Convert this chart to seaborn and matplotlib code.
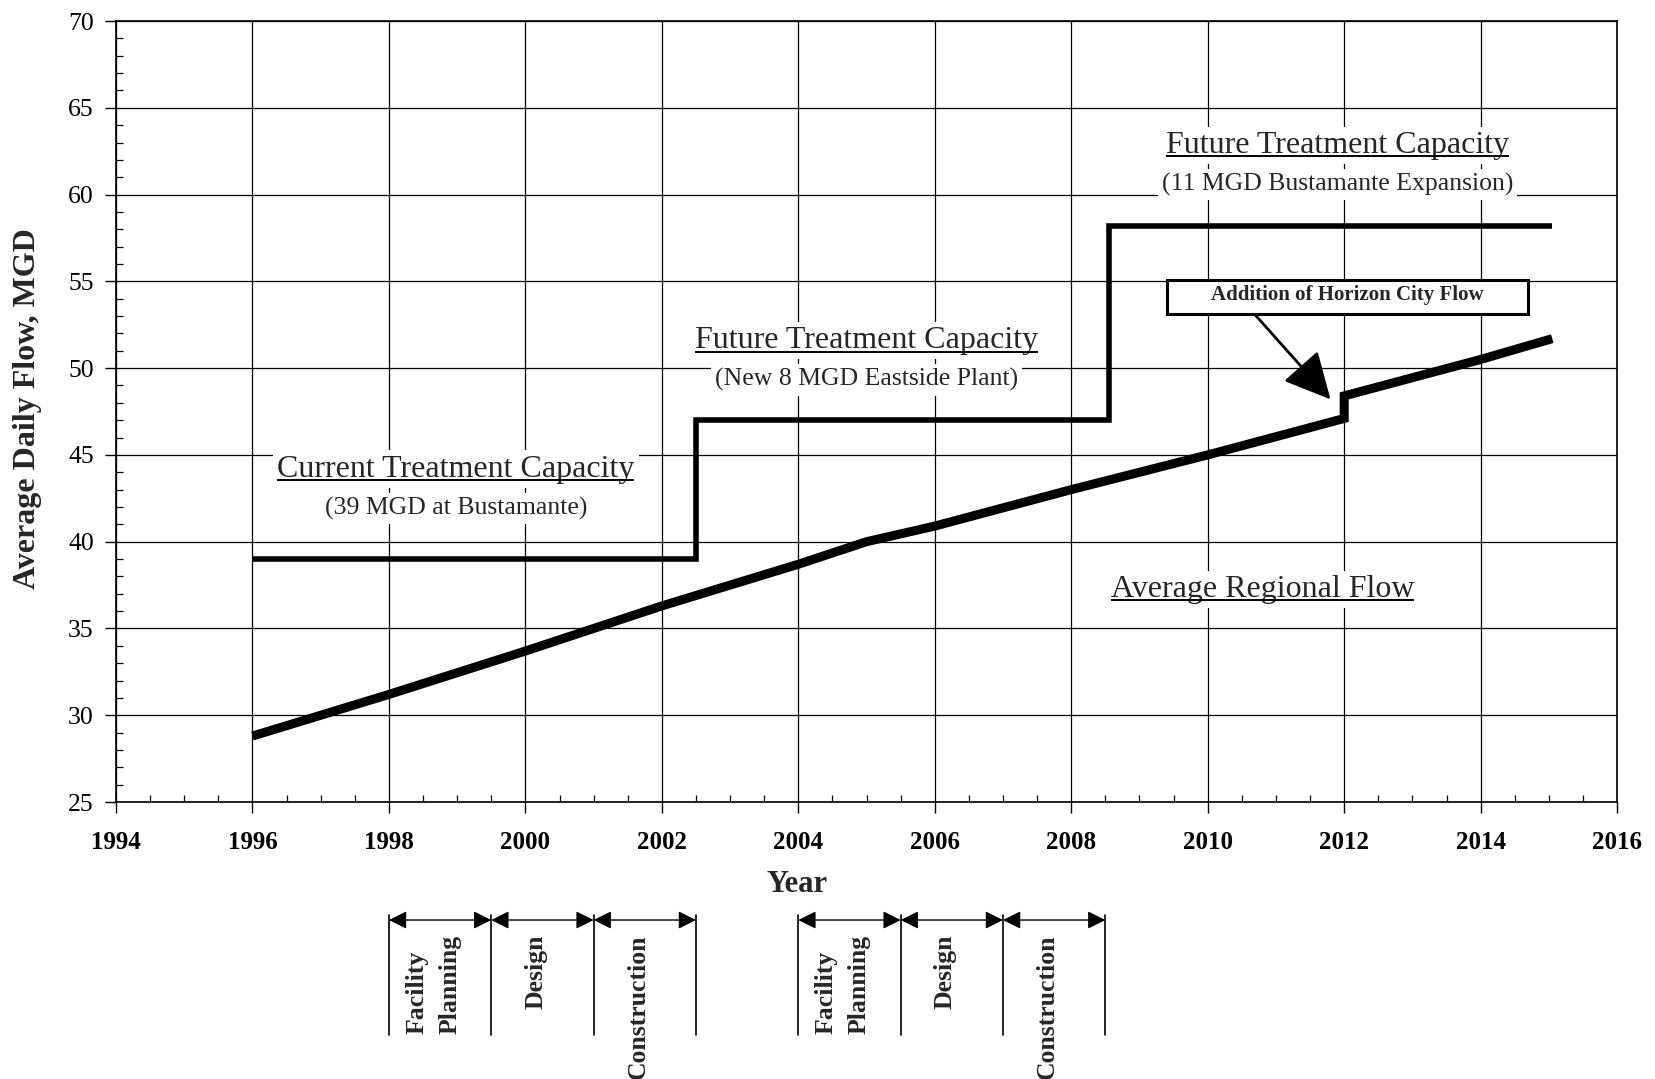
import numpy as np
import pandas as pd
import seaborn as sns
import matplotlib.pyplot as plt
from matplotlib.ticker import MultipleLocator
from matplotlib.patches import Rectangle

# values
flow_years = [1996, 1998, 2000, 2002, 2004, 2005, 2006, 2008, 2010, 2012, 2012, 2014, 2015.05]
flow_mgd = [28.8, 31.2, 33.7, 36.3, 38.7, 40.0, 40.9, 43.0, 45.0, 47.1, 48.4, 50.5, 51.7]

cap_years = [1996, 2002.5, 2008.55, 2015.05]
cap_mgd = [39.0, 47.0, 58.2, 58.2]

phase_names = ['Facility\nPlanning', 'Design', 'Construction']
phase_bounds_1 = [1998, 1999.5, 2001, 2002.5]
phase_bounds_2 = [2004, 2005.5, 2007, 2008.5]

x_ticks = list(range(1994, 2017, 2))
y_ticks = list(range(25, 71, 5))

sns.set_style('ticks')
plt.rcParams['font.family'] = ['Liberation Serif', 'DejaVu Serif']

fig = plt.figure(figsize=(16.55, 10.79), dpi=100)
ax = fig.add_axes([0.0701, 0.2567, 0.9070, 0.7238])

flow = pd.DataFrame({'year': flow_years, 'mgd': flow_mgd})
cap = pd.DataFrame({'year': cap_years, 'mgd': cap_mgd})

sns.lineplot(data=flow, x='year', y='mgd', estimator=None, sort=False, color='black',
             linewidth=6.5, solid_capstyle='butt', solid_joinstyle='miter', ax=ax, zorder=5)
sns.lineplot(data=cap, x='year', y='mgd', estimator=None, sort=False, color='black',
             linewidth=4, drawstyle='steps-post', solid_capstyle='butt',
             solid_joinstyle='miter', ax=ax, zorder=5)

ax.set_xlim(1994, 2016)
ax.set_ylim(25, 70)
ax.set_xticks(x_ticks)
ax.set_xticklabels([str(v) for v in x_ticks], fontweight='bold')
ax.set_yticks(y_ticks)
ax.set_yticklabels([str(v) for v in y_ticks])
ax.xaxis.set_minor_locator(MultipleLocator(0.5))
ax.yaxis.set_minor_locator(MultipleLocator(1))
ax.grid(True, which='major', color='black', linewidth=0.9)
ax.tick_params(which='major', direction='out', length=8, width=1, color='black',
               labelsize=18, labelcolor='black', bottom=True, left=True)
ax.tick_params(axis='x', which='major', pad=13)
ax.tick_params(axis='y', which='major', pad=8, labelsize=18.5)
ax.tick_params(which='minor', direction='in', length=5, width=0.9, color='black',
               bottom=True, left=True)
for s in ax.spines.values():
    s.set_visible(True)
    s.set_color('black')
    s.set_linewidth(1.2)
ax.set_xlabel('')
ax.set_ylabel('')

fig.text(0.0166, 0.621, 'Average Daily Flow, MGD', rotation=90, ha='center', va='center',
         fontsize=23, fontweight='bold')
fig.text(0.4816, 0.1803, 'Year', ha='center', va='center', fontsize=22, fontweight='bold')

white = dict(facecolor='white', edgecolor='none', pad=3)
underlined = []


def heading(x, y, title, sub=None, dy=2.18):
    t = ax.text(x, y, title, ha='center', va='baseline', fontsize=23, bbox=white, zorder=3)
    underlined.append((t, y))
    if sub:
        ax.text(x, y - dy, sub, ha='center', va='baseline', fontsize=18.5, bbox=white, zorder=3)


heading(1998.98, 43.75, 'Current Treatment Capacity', '(39 MGD at Bustamante)')
heading(2005.0, 51.15, 'Future Treatment Capacity', '(New 8 MGD Eastside Plant)')
heading(2011.9, 62.4, 'Future Treatment Capacity', '(11 MGD Bustamante Expansion)')
heading(2010.8, 36.82, 'Average Regional Flow')

# horizon city callout
ax.add_patch(Rectangle((2009.40, 53.12), 5.30, 1.94, facecolor='white', edgecolor='black',
                       linewidth=2.2, zorder=6))
ax.text(2012.04, 53.94, 'Addition of Horizon City Flow', ha='center', va='baseline',
        fontsize=15, fontweight='bold', zorder=7)
ax.annotate('', xy=(2011.8, 48.2), xytext=(2010.70, 53.05),
            arrowprops=dict(arrowstyle='-|>,head_length=1.6,head_width=0.8', mutation_scale=18,
                            color='black', lw=2, shrinkA=0, shrinkB=0), zorder=6)

# project schedule under the axis
trans = ax.get_xaxis_transform()
for bounds in (phase_bounds_1, phase_bounds_2):
    for b in bounds:
        ax.plot([b, b], [-0.1447, -0.2983], transform=trans, color='black', lw=1.2,
                clip_on=False)
    for a, b, name in zip(bounds[:-1], bounds[1:], phase_names):
        ax.annotate('', xy=(b, -0.1511), xytext=(a, -0.1511), xycoords=trans, textcoords=trans,
                    arrowprops=dict(arrowstyle='<|-|>,head_length=0.6,head_width=0.3',
                                    mutation_scale=18, color='black', lw=1, shrinkA=0, shrinkB=0),
                    annotation_clip=False)
        ax.text((a + b) / 2 - 0.1, -0.1700, name, transform=trans, rotation=90, ha='center',
                va='top', fontsize=18.5, fontweight='bold', multialignment='left',
                linespacing=1.55)

# underline the headings
fig.canvas.draw()
renderer = fig.canvas.get_renderer()
inv = ax.transData.inverted()
for t, y in underlined:
    bb = t.get_window_extent(renderer)
    base = ax.transData.transform((2000, y))[1]
    em = t.get_fontsize() * fig.dpi / 72
    yl = base - 0.11 * em
    (x0, y0), (x1, _) = inv.transform([(bb.x0, yl), (bb.x1, yl)])
    ax.plot([x0, x1], [y0, y0], color='black', lw=1.4, zorder=4, solid_capstyle='butt')

fig.savefig('out.png', dpi=100)
